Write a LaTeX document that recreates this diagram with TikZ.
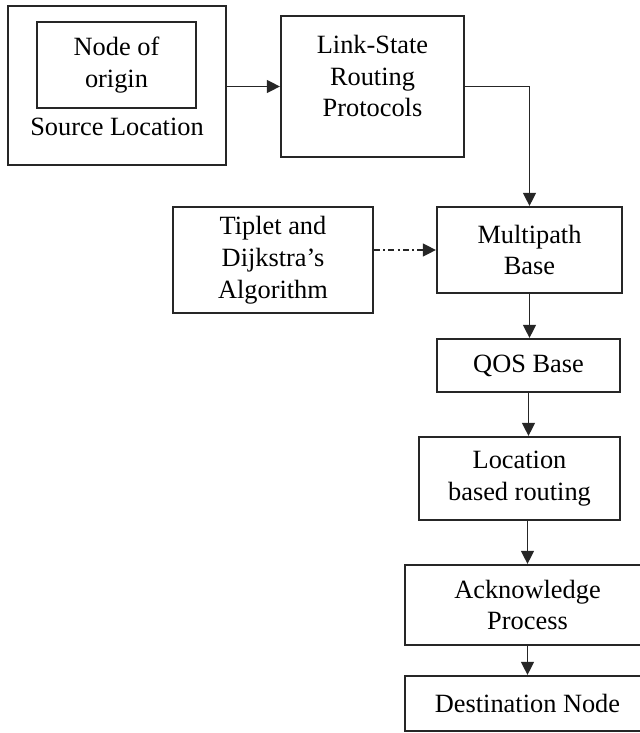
\documentclass[tikz,border=0pt]{standalone}
\usepackage{fontspec}
\setmainfont{Liberation Serif}
\usepackage{tikz}
\usetikzlibrary{arrows.meta,positioning,calc}
\newcommand\pxu{0.16mm}
\tikzset{
  fcbox/.style={draw=black!85, line width=0.9pt, inner sep=0pt, align=center,
                font=\fontsize{12pt}{14.5pt}\selectfont},
  fclabel/.style={inner sep=0pt, align=center, font=\fontsize{12pt}{14.5pt}\selectfont},
  fcarr/.style={-{Triangle[length=6pt, width=5.8pt]}, line width=0.9pt, black!85},
  fcdash/.style={fcarr, dash pattern=on 2.7pt off 1.5pt on 0.9pt off 1.5pt}
}
\begin{document}
\begin{tikzpicture}[x=0.16mm, y=-0.16mm]
\useasboundingbox (0,0) rectangle (640,733);
\clip (0,0) rectangle (640,733);
% source block
\node[fcbox, minimum width=218*\pxu, minimum height=159*\pxu] (srcbox) at (117,85.5) {};
\node[fcbox, minimum width=159*\pxu, minimum height=86*\pxu] (orgbox) at (116.5,65) {Node of\\origin};
\node[fclabel] (srclbl) at (117,127) {Source Location};
% top row
\node[fcbox, minimum width=183*\pxu, minimum height=141*\pxu] (lsrbox) at (372.5,86.5) {};
\node[fclabel] (lsrlbl) at (372.5,76) {Link-State\\Routing\\Protocols};
% middle
\node[fcbox, minimum width=200*\pxu, minimum height=106*\pxu] (tipbox) at (273,260) {Tiplet and\\Dijkstra's\\Algorithm};
\node[fcbox, minimum width=185*\pxu, minimum height=86*\pxu] (mpbox) at (529.5,250) {Multipath\\Base};
% right column
\node[fcbox, minimum width=183*\pxu, minimum height=53*\pxu] (qosbox) at (528.5,365.5) {QOS Base};
\node[fcbox, minimum width=201*\pxu, minimum height=83*\pxu] (locbox) at (519.5,478.5) {Location\\based routing};
\node[fcbox, minimum width=245*\pxu, minimum height=80*\pxu] (ackbox) at (527.5,605) {Acknowledge\\Process};
\node[fcbox, minimum width=245*\pxu, minimum height=55*\pxu] (dstbox) at (527.5,703.5) {Destination Node};
% connectors
\draw[fcarr] (srcbox.east |- lsrbox.east) -- (lsrbox.west);
\draw[fcarr] (lsrbox.east) -| (mpbox.north);
\draw[fcdash] (mpbox.west -| tipbox.east) -- (mpbox.west);
\draw[fcarr] (mpbox.south) -- (mpbox.south |- qosbox.north);
\draw[fcarr] (qosbox.south) -- (qosbox.south |- locbox.north);
\draw[fcarr] (ackbox.north |- locbox.south) -- (ackbox.north);
\draw[fcarr] (ackbox.south) -- (dstbox.north);
\end{tikzpicture}
\end{document}
